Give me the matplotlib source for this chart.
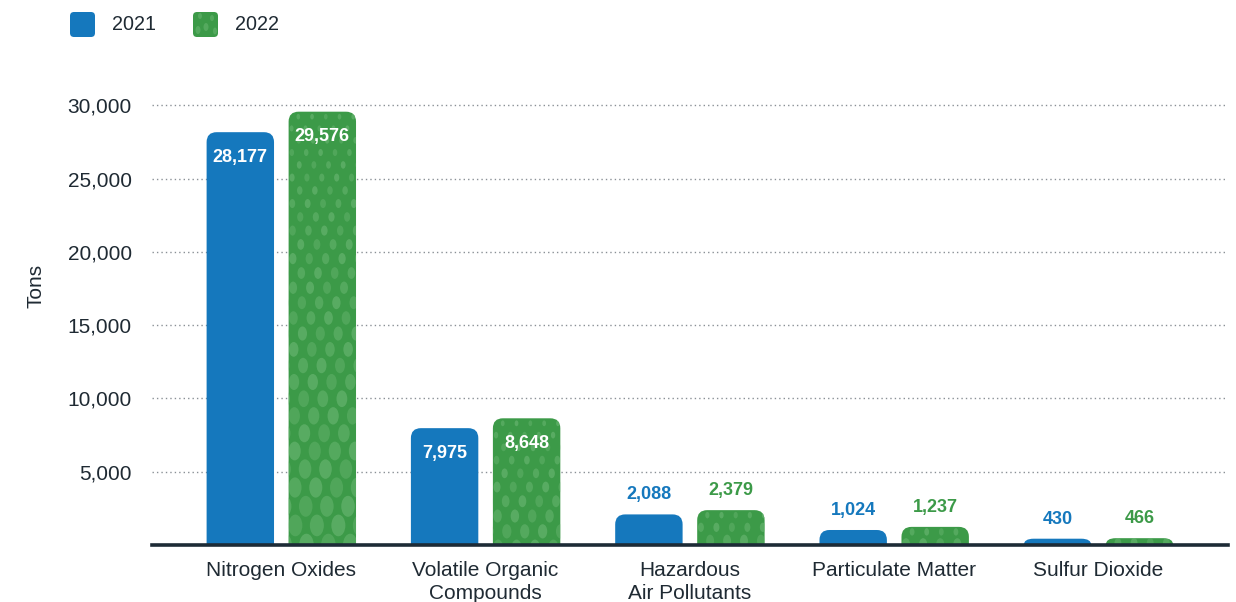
import matplotlib
matplotlib.use("Agg")
import matplotlib.pyplot as plt
from matplotlib.path import Path
from matplotlib.patches import PathPatch, Ellipse, FancyBboxPatch

categories = ["Nitrogen Oxides", "Volatile Organic\nCompounds", "Hazardous\nAir Pollutants",
              "Particulate Matter", "Sulfur Dioxide"]
series_names = ["2021", "2022"]
values_2021 = [28177, 7975, 2088, 1024, 430]
values_2022 = [29576, 8648, 2379, 1237, 466]
y_ticks = [5000, 10000, 15000, 20000, 25000, 30000]

BLUE = "#1578bd"
GREEN = "#3c9a48"
DOT = "#6cb874"
TEXT = "#1f2a33"

plt.rcParams["font.family"] = ["Liberation Sans", "DejaVu Sans"]

W, H, DPI = 1236, 602, 100
fig = plt.figure(figsize=(W / DPI, H / DPI), dpi=DPI)
ax_l, ax_b, ax_w, ax_h = 152, 57, 1076, 461.5
ax = fig.add_axes([ax_l / W, ax_b / H, ax_w / W, ax_h / H])

xlim = (-0.633, 4.634)
ylim = (0, 31500)
ax.set_xlim(*xlim)
ax.set_ylim(*ylim)
px_x = (xlim[1] - xlim[0]) / ax_w
px_y = (ylim[1] - ylim[0]) / ax_h

bar_w = 0.330
offset = 0.2007
radius_px = 10


def rounded_top(x0, x1, top, rx, ry):
    ry = min(ry, top)
    verts = [(x0, 0), (x0, top - ry), (x0, top), (x0 + rx, top),
             (x1 - rx, top), (x1, top), (x1, top - ry), (x1, 0), (x0, 0)]
    codes = [Path.MOVETO, Path.LINETO, Path.CURVE3, Path.CURVE3,
             Path.LINETO, Path.CURVE3, Path.CURVE3, Path.LINETO, Path.CLOSEPOLY]
    return Path(verts, codes)


def add_dots(patch, x0, x1, top):
    """Speckled fill: light ovals that grow towards the bottom of the bar."""
    height_px = top / px_y
    width_px = (x1 - x0) / px_x
    depth = 5.0
    row = 0
    while depth < height_px + 10:
        frac = min(depth / max(height_px, 1.0), 1.0)
        w = 3.5 + frac * (4.5 + 0.015 * height_px)
        h = w * 1.55
        col_step = 11 + w * 0.75
        shift = 0.5 * col_step if row % 2 else 0.0
        xp = -4 + shift
        k = 0
        while xp < width_px + 8:
            a = 0.42 + 0.18 * ((row + k) % 3) / 2
            e = Ellipse((x0 + xp * px_x, top - depth * px_y), w * px_x, h * px_y,
                        facecolor=DOT, edgecolor="none", alpha=a, zorder=3)
            ax.add_patch(e)
            e.set_clip_path(patch)
            xp += col_step
            k += 1
        depth += 9 + w * 0.75
        row += 1


rx = radius_px * px_x
ry = radius_px * px_y

for i, (v1, v2) in enumerate(zip(values_2021, values_2022)):
    for val, dx, color, dotted in ((v1, -offset, BLUE, False), (v2, offset, GREEN, True)):
        x0 = i + dx - bar_w / 2
        x1 = i + dx + bar_w / 2
        patch = PathPatch(rounded_top(x0, x1, val, rx, ry), facecolor=color,
                          edgecolor="none", zorder=2)
        ax.add_patch(patch)
        if dotted:
            add_dots(patch, x0, x1, val)
        label = f"{val:,}"
        if val / px_y > 60:
            ax.text(i + dx, val - 25 * px_y, label, ha="center", va="center",
                    color="white", fontsize=13, fontweight="bold", zorder=5)
        else:
            ax.text(i + dx, val + 19.5 * px_y, label, ha="center", va="center",
                    color=color, fontsize=13, fontweight="bold", zorder=5)

# dotted gridlines and baseline
for t in y_ticks:
    ax.axhline(t, color="#8a9096", lw=1.0, ls=(0, (1, 2.2)), zorder=1)
ax.axhline(0, color="#1d2b36", lw=2.6, zorder=6, clip_on=False)

for s in ax.spines.values():
    s.set_visible(False)
ax.set_yticks(y_ticks)
ax.set_yticklabels([f"{t:,}" for t in y_ticks], fontsize=15, color=TEXT)
ax.tick_params(axis="y", length=0, pad=14.5)
ax.set_xticks(range(len(categories)))
ax.set_xticklabels(categories, fontsize=15, color=TEXT, linespacing=1.28)
ax.tick_params(axis="x", length=0, pad=11.5)
ax.set_ylabel("Tons", fontsize=15, color=TEXT)
ax.yaxis.set_label_coords(-0.0994, 0.562)

# legend
fig_h = H


def fig_box(x, y_top, size, color):
    return FancyBboxPatch((x / W, (fig_h - y_top - size) / fig_h), size / W, size / fig_h,
                          boxstyle=f"round,pad=0,rounding_size={4 / W}",
                          mutation_aspect=W / fig_h,
                          transform=fig.transFigure, facecolor=color, edgecolor="none")


fig.patches.append(fig_box(70, 12, 25, BLUE))
gbox = fig_box(193, 12, 25, GREEN)
fig.patches.append(gbox)
for (dx, dy, ew, eh) in [(200, 16, 4, 6), (212, 18, 4, 6), (198, 30, 5, 8), (206, 27, 5, 8), (215, 31, 4, 7)]:
    e = Ellipse((dx / W, (fig_h - dy) / fig_h), ew / W, eh / fig_h, transform=fig.transFigure,
                facecolor=DOT, edgecolor="none", alpha=0.5)
    fig.patches.append(e)
    e.set_clip_path(gbox)
fig.text(112 / W, (fig_h - 25) / fig_h, series_names[0], fontsize=14.2, color=TEXT, va="center")
fig.text(235 / W, (fig_h - 25) / fig_h, series_names[1], fontsize=14.2, color=TEXT, va="center")

fig.savefig("out.png", dpi=DPI, facecolor="white")
